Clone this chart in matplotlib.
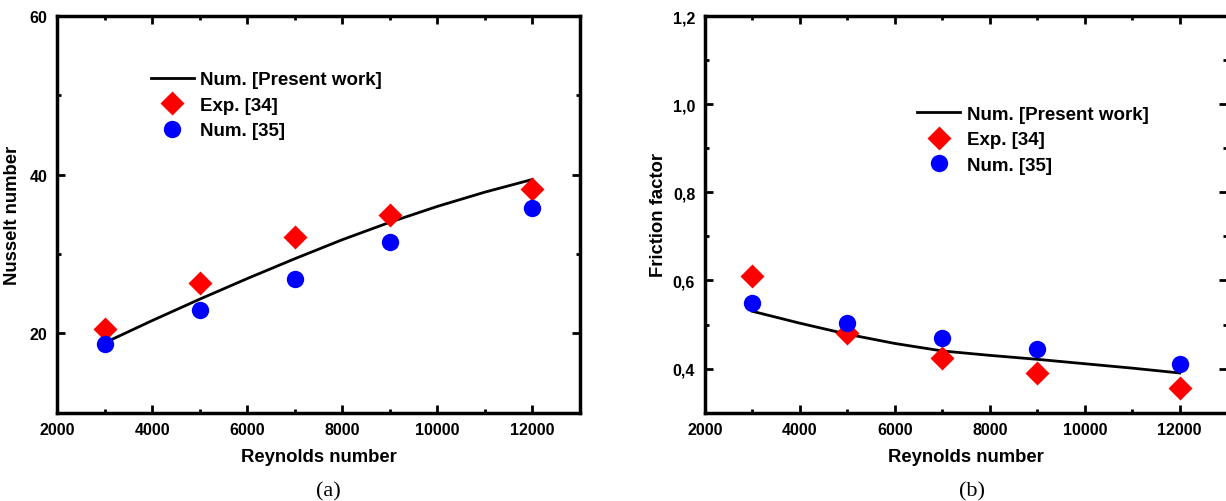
import matplotlib.pyplot as plt
from matplotlib.ticker import MultipleLocator, FixedLocator, FixedFormatter

# data
re_pts = [3000, 5000, 7000, 9000, 12000]
nu_exp = [20.5, 26.4, 32.2, 34.9, 38.2]
nu_ref = [18.6, 23.0, 26.9, 31.5, 35.8]
f_exp = [0.611, 0.480, 0.423, 0.391, 0.355]
f_ref = [0.548, 0.504, 0.470, 0.445, 0.411]

re_line = [3000, 4000, 5000, 6000, 7000, 8000, 9000, 10000, 11000, 12000]
nu_line = [18.8, 21.6, 24.3, 26.9, 29.4, 31.8, 34.0, 36.0, 37.8, 39.4]
f_line = [0.530, 0.503, 0.478, 0.457, 0.440, 0.430, 0.421, 0.411, 0.401, 0.390]

x_ticks = [2000, 4000, 6000, 8000, 10000, 12000]
x_labels = ["2000", "4000", "6000", "8000", "10000", "12000"]
nu_ticks = [20, 40, 60]
nu_labels = ["20", "40", "60"]
f_ticks = [0.4, 0.6, 0.8, 1.0, 1.2]
f_labels = ["0,4", "0,6", "0,8", "1,0", "1,2"]

plt.rcParams['font.family'] = ['Liberation Sans', 'DejaVu Sans']
plt.rcParams['font.weight'] = 'bold'

fig = plt.figure(figsize=(12.26, 5.02), dpi=100)
ax1 = fig.add_axes([0.0465, 0.176, 0.4265, 0.79])
ax2 = fig.add_axes([0.575, 0.176, 0.426, 0.79])


def style_axis(ax, yticks, ylabels, yminor):
    ax.set_xlim(2000, 13000)
    ax.xaxis.set_major_locator(FixedLocator(x_ticks))
    ax.xaxis.set_major_formatter(FixedFormatter(x_labels))
    ax.xaxis.set_minor_locator(MultipleLocator(1000))
    ax.yaxis.set_major_locator(FixedLocator(yticks))
    ax.yaxis.set_major_formatter(FixedFormatter(ylabels))
    ax.yaxis.set_minor_locator(MultipleLocator(yminor))
    ax.tick_params(which='both', direction='in', top=True, right=True,
                   labelsize=11.5, width=2, pad=7)
    ax.tick_params(which='major', length=6)
    ax.tick_params(which='minor', length=3)
    for lbl in ax.get_xticklabels() + ax.get_yticklabels():
        lbl.set_fontweight('bold')
    for sp in ax.spines.values():
        sp.set_linewidth(2.5)
    ax.set_xlabel("Reynolds number", fontsize=13.3, fontweight='bold', labelpad=8)


leg_kw = dict(loc='upper left', frameon=False, prop={'weight': 'bold', 'size': 13.5},
              handlelength=2.3, handletextpad=0.35, labelspacing=0.45, borderpad=0)

# (a) Nusselt number
ax1.plot(re_line, nu_line, color='black', lw=2, label="Num. [Present work]")
ax1.plot(re_pts, nu_exp, 'D', color='red', ms=12, mec='none', label="Exp. [34]")
ax1.plot(re_pts, nu_ref, 'o', color='blue', ms=12.5, mec='none', label="Num. [35]")
ax1.set_ylim(10, 60)
style_axis(ax1, nu_ticks, nu_labels, 10)
ax1.set_ylabel("Nusselt number", fontsize=13.3, fontweight='bold', labelpad=6)
ax1.legend(bbox_to_anchor=(0.161, 0.885), **leg_kw)

# (b) Friction factor
ax2.plot(re_line, f_line, color='black', lw=2, label="Num. [Present work]")
ax2.plot(re_pts, f_exp, 'D', color='red', ms=12, mec='none', label="Exp. [34]")
ax2.plot(re_pts, f_ref, 'o', color='blue', ms=12.5, mec='none', label="Num. [35]")
ax2.set_ylim(0.3, 1.2)
style_axis(ax2, f_ticks, f_labels, 0.1)
ax2.set_ylabel("Friction factor", fontsize=13.3, fontweight='bold', labelpad=4)
ax2.legend(bbox_to_anchor=(0.388, 0.798), **leg_kw)

fig.text(0.268, 0.01, "(a)", fontsize=16, family='Liberation Serif',
         fontweight='normal', ha='center')
fig.text(0.793, 0.01, "(b)", fontsize=16, family='Liberation Serif',
         fontweight='normal', ha='center')

fig.savefig("out.png", dpi=100)
